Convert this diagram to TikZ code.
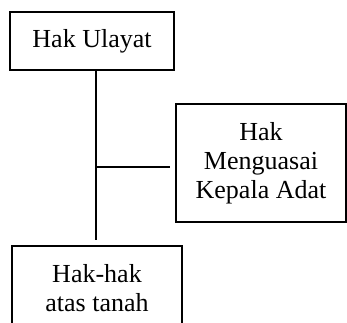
\documentclass[tikz,border=0pt]{standalone}
\usepackage{fontspec}
\setmainfont{Liberation Serif}

\begin{document}
\begin{tikzpicture}[x=1pt,y=-1pt,line width=1.3pt,
  kotak/.style={draw,align=center,inner sep=0pt,font=\fontsize{26}{29}\selectfont}]
\useasboundingbox (0,0) rectangle (347,322);
\clip (0,0) rectangle (347,322);
\node (ulayat) [kotak,minimum width=164pt,minimum height=58pt] at (92,41) {Hak Ulayat};
\node (kepala) [kotak,minimum width=170pt,minimum height=118pt] at (261,163) {Hak\\Menguasai\\Kepala Adat};
\node (tanah) [kotak,minimum width=170pt,minimum height=84pt] at (97,288) {Hak-hak\\atas tanah};
\coordinate (trunk) at (96,240);
\coordinate (fork) at (96,167);
\coordinate (tip) at (170,167);
\draw (ulayat.south -| trunk) -- (trunk);
\draw (fork) -- (tip);
\end{tikzpicture}
\end{document}
